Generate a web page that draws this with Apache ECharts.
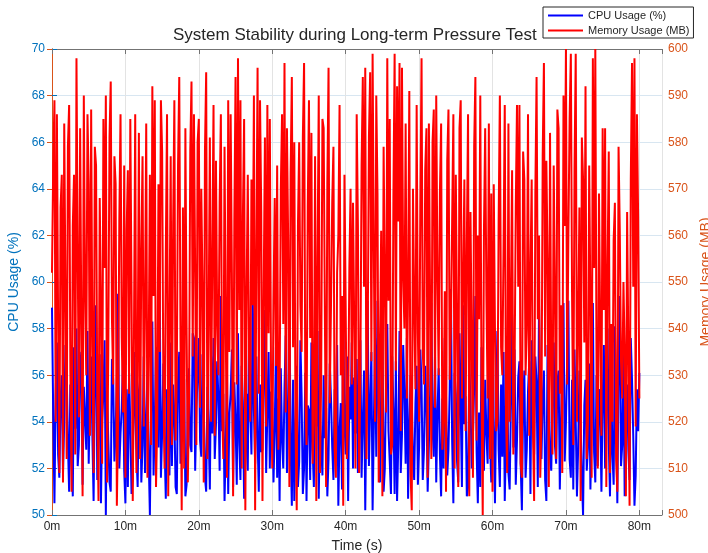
<!DOCTYPE html>
<html>
<head>
<meta charset="utf-8">
<script src="https://cdn.jsdelivr.net/npm/echarts@6/dist/echarts.min.js"></script>
<style>
  html, body { margin: 0; padding: 0; background: #fff; }
  #chart { width: 708px; height: 553px; }
</style>
</head>
<body>
<div id="chart"></div>
<script>
// samples every 10 s, 0 .. 4800 s
const sampleStep = 10;
const xTickStep = 600;

const cpuUsage = [
  58.9, 54.3, 50.5, 55.1, 57.4, 52.6, 51.6, 54.9, 56.0, 51.8, 54.0, 57.3, 56.2, 53.1, 51.0, 55.6, 52.4, 50.8, 57.2, 53.7,
  58.0, 52.1, 53.0, 56.4, 57.0, 51.3, 55.5, 54.2, 52.8, 57.9, 52.2, 55.0, 56.8, 53.4, 50.6, 55.7, 59.0, 51.5, 53.5, 56.9,
  50.5, 54.1, 55.2, 57.5, 50.0, 55.3, 53.2, 51.4, 51.0, 56.7, 55.8, 52.3, 53.6, 55.9, 59.5, 52.0, 53.5, 54.6, 56.6, 51.9,
  50.5, 55.4, 51.2, 56.1, 53.8, 50.9, 51.6, 57.0, 54.5, 52.7, 51.2, 55.3, 55.9, 51.4, 53.0, 56.8, 51.8, 54.0, 56.2, 52.5,
  50.0, 54.8, 58.3, 51.7, 54.0, 57.2, 55.2, 52.9, 60.0, 51.6, 53.5, 56.5, 53.0, 50.7, 55.4, 53.8, 51.7, 57.4, 52.1, 55.6,
  54.3, 51.2, 50.9, 55.8, 57.0, 52.2, 53.5, 56.3, 55.8, 50.8, 51.3, 54.7, 56.3, 53.0, 52.7, 57.8, 57.6, 51.9, 54.5, 56.0,
  57.6, 53.2, 52.5, 56.9, 54.7, 51.6, 51.0, 55.5, 53.6, 51.1, 56.8, 53.5, 57.6, 52.4, 53.9, 56.6, 55.0, 51.9, 59.4, 53.6,
  55.2, 50.6, 53.0, 56.2, 50.9, 54.4, 55.2, 57.1, 51.2, 55.7, 54.0, 51.3, 57.8, 53.1, 51.5, 56.4, 54.8, 50.7, 52.4, 55.2,
  51.9, 57.6, 54.7, 52.6, 59.9, 54.5, 52.2, 56.8, 53.3, 51.0, 55.6, 52.7, 52.8, 55.9, 58.8, 51.8, 54.4, 57.0, 52.0, 55.3,
  54.8, 51.4, 53.6, 57.2, 51.6, 55.0, 50.6, 56.3, 53.2, 52.0, 55.4, 57.7, 51.8, 54.2, 59.6, 53.0, 50.4, 55.8, 50.6, 53.9,
  56.4, 51.2, 52.3, 57.5, 55.1, 50.9, 52.0, 56.1, 50.6, 54.7, 54.5, 51.5, 57.4, 52.8, 51.2, 55.6, 53.8, 57.9, 50.7, 54.4,
  53.0, 51.7, 56.0, 53.3, 54.6, 50.8, 52.4, 56.5, 55.0, 52.9, 51.5, 55.4, 54.3, 57.3, 50.4, 53.6, 54.8, 51.1, 58.7, 54.0,
  52.6, 56.8, 50.6, 55.5, 54.1, 57.4, 52.0, 55.9, 53.5, 56.7, 51.8, 53.4, 57.5, 51.6, 54.0, 56.2, 50.2, 54.9, 59.2, 52.1,
  54.7, 57.0, 50.2, 53.8, 57.6, 52.5, 59.2, 54.6, 51.4, 55.3, 58.6, 51.0, 52.0, 55.7, 58.2, 53.6, 52.3, 50.9, 56.8, 54.5,
  50.9, 56.6, 50.6, 53.1, 57.9, 51.8, 53.4, 57.3, 55.2, 52.2, 57.6, 50.7, 53.7, 56.0, 55.0, 52.4, 51.5, 54.8, 56.4, 51.3,
  52.9, 57.1, 55.6, 51.5, 52.8, 56.4, 54.8, 51.0, 53.0, 55.2, 59.1, 53.7, 52.5, 56.9, 51.4, 54.3, 56.3, 52.6, 50.8, 55.0,
  52.0, 57.6, 55.1, 51.7, 52.8, 55.4, 59.7, 53.2, 50.5, 56.1, 55.2, 52.3, 51.4, 57.8, 54.6, 51.2, 59.0, 53.9, 55.1, 50.8,
  51.2, 56.5, 54.8, 52.0, 53.4, 55.5, 59.4, 52.7, 50.5, 54.4, 51.2, 57.2, 53.6, 51.9, 55.8, 53.5, 52.2, 56.7, 53.0, 51.4,
  59.4, 53.8, 50.5, 54.9, 57.9, 52.8, 51.2, 55.6, 52.5, 57.0, 50.6, 53.3, 56.2, 51.8, 51.1, 54.6, 58.6, 52.9, 57.1, 51.3,
  53.2, 55.9, 56.6, 52.2, 50.2, 54.7, 56.2, 51.6, 52.8, 55.3, 56.6, 50.9, 57.5, 54.1, 52.6, 56.8, 55.7, 51.2, 59.0, 53.6,
  52.4, 55.0, 56.2, 51.5, 50.6, 57.3, 55.8, 52.5, 51.9, 54.8, 57.4, 53.0, 52.2, 55.7, 56.2, 51.1, 54.0, 56.9, 59.1, 52.3,
  54.0, 56.7, 59.2, 52.4, 51.6, 55.8, 51.1, 57.1, 54.0, 50.8, 52.9, 56.2, 53.9, 51.6, 50.0, 54.7, 55.8, 51.9, 52.9, 56.5,
  51.1, 53.8, 59.1, 52.7, 51.4, 56.0, 52.1, 55.4, 54.5, 51.0, 54.8, 57.3, 52.0, 54.2, 58.0, 53.1, 50.8, 55.9, 52.6, 51.3,
  58.1, 54.5, 50.5, 56.4, 59.4, 52.1, 53.0, 57.0, 50.8, 54.6, 55.6, 52.8, 51.5, 57.6, 55.8, 53.4, 50.4, 51.7, 55.4, 53.6,
  56.1
];

const memoryUsage = [
  552, 575, 589, 520, 586, 541, 509, 566, 573, 507, 584, 548, 512, 579, 588, 531, 505, 562, 573, 513,
  598, 556, 521, 583, 540, 504, 590, 548, 530, 586, 571, 517, 587, 536, 509, 579, 575, 524, 503, 568,
  545, 511, 585, 553, 590, 507, 535, 581, 593, 542, 528, 577, 571, 502, 520, 563, 586, 538, 522, 575,
  508, 561, 574, 526, 585, 548, 503, 539, 586, 509, 530, 582, 512, 557, 577, 519, 545, 584, 508, 533,
  573, 515, 592, 547, 589, 506, 520, 571, 535, 589, 578, 528, 510, 556, 586, 504, 540, 577, 515, 562,
  589, 516, 530, 575, 594, 538, 501, 566, 510, 583, 540, 507, 525, 578, 593, 534, 586, 552, 515, 580,
  585, 523, 570, 549, 507, 578, 595, 512, 540, 581, 520, 556, 588, 517, 576, 541, 530, 567, 586, 523,
  512, 579, 540, 508, 589, 535, 586, 552, 504, 563, 594, 528, 598, 544, 589, 510, 564, 585, 501, 547,
  573, 534, 520, 572, 545, 590, 501, 556, 596, 526, 589, 565, 503, 548, 581, 519, 588, 539, 585, 530,
  510, 546, 568, 532, 575, 514, 525, 570, 586, 541, 597, 522, 583, 559, 506, 573, 594, 536, 580, 519,
  501, 562, 580, 545, 535, 581, 597, 527, 515, 566, 589, 538, 582, 511, 520, 577, 503, 555, 590, 509,
  530, 585, 583, 543, 506, 571, 596, 524, 545, 567, 579, 514, 508, 552, 560, 588, 530, 547, 502, 573,
  545, 512, 520, 553, 570, 528, 567, 540, 510, 586, 562, 509, 530, 575, 594, 549, 596, 512, 538, 581,
  595, 533, 599, 557, 520, 590, 569, 507, 535, 561, 504, 579, 550, 522, 598, 546, 585, 513, 515, 568,
  599, 531, 592, 563, 597, 518, 596, 551, 540, 584, 525, 548, 591, 509, 501, 570, 545, 527, 588, 539,
  520, 566, 598, 535, 528, 574, 583, 508, 584, 545, 512, 580, 587, 523, 590, 551, 530, 569, 584, 514,
  520, 548, 505, 576, 587, 529, 540, 563, 586, 510, 573, 541, 506, 583, 589, 525, 550, 572, 518, 558,
  586, 504, 565, 537, 508, 579, 594, 516, 560, 542, 590, 527, 500, 561, 583, 547, 525, 584, 512, 569,
  505, 571, 540, 518, 520, 563, 590, 536, 530, 557, 588, 521, 509, 584, 520, 546, 574, 513, 530, 566,
  588, 549, 588, 511, 508, 578, 572, 530, 540, 586, 517, 552, 572, 519, 503, 569, 594, 542, 560, 508,
  520, 577, 597, 534, 576, 555, 506, 582, 530, 513, 575, 548, 512, 587, 583, 526, 545, 509, 590, 562,
  600, 528, 560, 585, 599, 547, 515, 574, 599, 520, 540, 566, 503, 581, 572, 537, 592, 512, 520, 575,
  545, 508, 598, 553, 600, 531, 510, 569, 540, 517, 583, 544, 583, 506, 553, 578, 509, 541, 520, 559,
  567, 512, 505, 579, 561, 533, 525, 550, 535, 504, 565, 536, 502, 572, 597, 549, 598, 519, 586, 564,
  525
];

const seriesNames = ['CPU Usage (%)', 'Memory Usage (MB)'];

const font = 'Arial, "Liberation Sans", Helvetica, sans-serif';
const axisGray = '#737373';
const leftColor = '#0072BD';
const rightColor = '#D95319';

const cpuPoints = cpuUsage.map((v, i) => [i * sampleStep, v]);
const memPoints = memoryUsage.map((v, i) => [i * sampleStep, v]);

const xMax = 4985;
const minuteLabel = v => (v % xTickStep === 0 ? (v / 60) + 'm' : '');

const chart = echarts.init(document.getElementById('chart'));
chart.setOption({
  animation: false,
  backgroundColor: '#fff',
  textStyle: { fontFamily: font },
  title: {
    text: 'System Stability during Long-term Pressure Test',
    left: 173,
    top: 27,
    padding: 0,
    textStyle: { fontSize: 17, fontWeight: 'normal', color: '#262626', fontFamily: font }
  },
  legend: {
    data: seriesNames,
    orient: 'vertical',
    left: 543,
    top: 7,
    padding: [2, 4, 1, 5],
    itemGap: 2,
    itemWidth: 35,
    itemHeight: 2,
    icon: 'rect',
    backgroundColor: '#fff',
    borderColor: '#262626',
    borderWidth: 1,
    textStyle: { fontSize: 11, color: '#262626', lineHeight: 13, fontFamily: font }
  },
  grid: {
    left: 52,
    right: 46,
    top: 49,
    bottom: 38,
    containLabel: false,
    outerBoundsMode: 'none'
  },
  xAxis: [
    {
      type: 'value',
      min: 0,
      max: xMax,
      interval: xTickStep,
      name: 'Time (s)',
      nameLocation: 'middle',
      nameGap: 24,
      nameTextStyle: { fontSize: 14, color: '#262626', fontFamily: font },
      axisLine: { lineStyle: { color: axisGray, width: 1 } },
      axisTick: { inside: true, length: 5, lineStyle: { color: axisGray } },
      axisLabel: { formatter: minuteLabel, fontSize: 12, color: '#262626', margin: 6, fontFamily: font },
      splitLine: { show: true, lineStyle: { color: '#e3e3e3', width: 1 } }
    },
    {
      type: 'value',
      position: 'top',
      min: 0,
      max: xMax,
      interval: xTickStep,
      axisLine: { show: true, lineStyle: { color: axisGray, width: 1 } },
      axisTick: { show: true, inside: true, length: 5, lineStyle: { color: axisGray } },
      axisLabel: { show: false },
      splitLine: { show: false }
    }
  ],
  yAxis: [
    {
      type: 'value',
      min: 50,
      max: 70,
      interval: 2,
      position: 'left',
      name: 'CPU Usage (%)',
      nameLocation: 'middle',
      nameRotate: 90,
      nameGap: 26,
      nameTextStyle: { fontSize: 14, color: leftColor, fontFamily: font },
      axisLine: { show: true, lineStyle: { color: leftColor, width: 1 } },
      axisTick: { show: true, inside: true, length: 5, lineStyle: { color: leftColor } },
      axisLabel: { fontSize: 12, color: leftColor, margin: 7, fontFamily: font },
      splitLine: { show: true, lineStyle: { color: '#d8e6f1', width: 1 } }
    },
    {
      type: 'value',
      min: 500,
      max: 600,
      interval: 10,
      position: 'right',
      name: 'Memory Usage (MB)',
      nameLocation: 'middle',
      nameRotate: 90,
      nameGap: 36,
      nameTextStyle: { fontSize: 14, color: rightColor, fontFamily: font },
      axisLine: { show: true, lineStyle: { color: rightColor, width: 1 } },
      axisTick: { show: true, inside: true, length: 5, lineStyle: { color: rightColor } },
      axisLabel: { fontSize: 12, color: rightColor, margin: 6, fontFamily: font },
      splitLine: { show: false }
    }
  ],
  series: [
    {
      name: seriesNames[0],
      type: 'line',
      xAxisIndex: 0,
      yAxisIndex: 0,
      data: cpuPoints,
      showSymbol: false,
      color: '#0000FF',
      lineStyle: { color: '#0000FF', width: 2 }
    },
    {
      name: seriesNames[1],
      type: 'line',
      xAxisIndex: 0,
      yAxisIndex: 1,
      data: memPoints,
      showSymbol: false,
      color: '#FF0000',
      lineStyle: { color: '#FF0000', width: 2 }
    }
  ]
});
</script>
</body>
</html>
